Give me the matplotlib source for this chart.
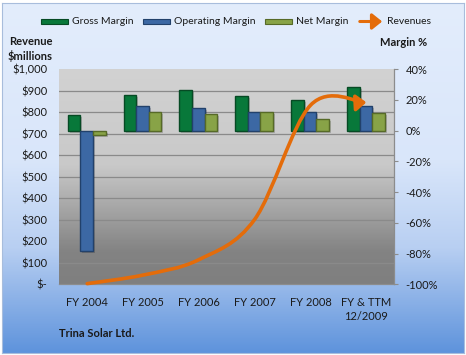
import numpy as np
import matplotlib.pyplot as plt
import matplotlib.transforms as mtransforms
from matplotlib.colors import LinearSegmentedColormap
from matplotlib.path import Path
from matplotlib.patches import FancyArrowPatch, Rectangle

plt.rcParams['font.family'] = ['Lato', 'DejaVu Sans']

# data
years = ['FY 2004', 'FY 2005', 'FY 2006', 'FY 2007', 'FY 2008', 'FY & TTM\n12/2009']
gross = [10.0, 23.0, 26.3, 22.2, 19.8, 28.3]
operating = [-78.5, 15.9, 14.4, 11.8, 11.8, 15.9]
net = [-2.6, 11.8, 10.7, 11.8, 7.4, 11.3]
revenue = [3.1, 42.9, 114.5, 301.8, 831.9, 845.1]

W, H = 466, 355
fig = plt.figure(figsize=(W / 100, H / 100), dpi=100, facecolor='white')


def fx(x):
    return x / W


def fy(y):
    return 1 - y / H


# blue gradient background of the whole chart
bg = fig.add_axes([fx(2.3), fy(352.7), fx(464 - 2.3), (352.7 - 2.7) / H], zorder=-5)
bg_cmap = LinearSegmentedColormap.from_list(
    'bg', [(0, '#e3edfc'), (0.45, '#d9e6fa'), (0.7, '#b8cff2'), (1, '#5e93dc')])
bg.imshow(np.linspace(0, 1, 256).reshape(-1, 1), cmap=bg_cmap, aspect='auto',
          extent=(0, 1, 0, 1), origin='upper')
bg.set_xticks([])
bg.set_yticks([])
for s in bg.spines.values():
    s.set_color('#a8bddc')
    s.set_linewidth(0.8)

# plot area
ax = fig.add_axes([fx(59.3), fy(284.3), fx(394.3 - 59.3), (284.3 - 69) / H])
ax2 = ax.twinx()

pa_cmap = LinearSegmentedColormap.from_list(
    'pa', [(0, '#d2d2d2'), (0.45, '#c9c9c9'), (0.85, '#838383'), (1, '#7f7f7f')])
ax.imshow(np.linspace(0, 1, 256).reshape(-1, 1), cmap=pa_cmap, aspect='auto',
          extent=(-0.5, 5.5, -100, 40), origin='upper', zorder=0)

x = np.arange(len(years))
bw = 0.225
shadow = ax.transData + mtransforms.ScaledTranslation(2 / 100, -2 / 100, fig.dpi_scale_trans)
series = [(gross, -0.235, '#08783a', '#064a24'),
          (operating, -0.01, '#3c68a4', '#22416b'),
          (net, 0.215, '#88a347', '#566a27')]
for vals, off, fc, ec in series:
    ax.bar(x + off, vals, bw, color='black', alpha=0.18, transform=shadow, zorder=2)
    ax.bar(x + off, vals, bw, color=fc, edgecolor=ec, linewidth=1.0, zorder=3)

# margin axis on the right
ax.set_xlim(-0.5, 5.5)
ax.set_ylim(-100, 40)
ax.set_xticks(x)
ax.set_xticklabels(years, fontsize=8, color='#1a1a1a', linespacing=1.3)
ax.tick_params(axis='x', length=0, pad=9)
ax.yaxis.tick_right()
ax.set_yticks(np.arange(-100, 41, 20))
ax.set_yticklabels([f'{v}%' for v in range(-100, 41, 20)], fontsize=8, color='#1a1a1a')
ax.tick_params(axis='y', which='major', length=3, pad=5, color='#8c8c8c')
ax.set_yticks(np.linspace(-100, 40, 11), minor=True)
ax.tick_params(axis='y', which='minor', length=0)
ax.grid(which='minor', axis='y', color='#8a8a8a', linewidth=0.9)
ax.set_axisbelow(True)
for side in ['left', 'top']:
    ax.spines[side].set_visible(False)
for side in ['right', 'bottom']:
    ax.spines[side].set_color('#8c8c8c')
    ax.spines[side].set_linewidth(0.9)

# revenue axis on the left
ax2.set_ylim(0, 1000)
ax2.yaxis.tick_left()
ticks = list(range(0, 1001, 100))
ax2.set_yticks(ticks)
ax2.set_yticklabels(['$-' if t == 0 else f'${t:,}' for t in ticks], fontsize=8, color='#1a1a1a')
ax2.tick_params(axis='y', length=0, pad=8.5)
for s in ax2.spines.values():
    s.set_visible(False)

# smoothed revenue line (bezier through the points) with arrow head
pts = np.column_stack([x, revenue]).astype(float)
ext = np.vstack([pts[0], pts, pts[-1]])
verts = [pts[0]]
codes = [Path.MOVETO]
for i in range(len(pts) - 1):
    p0, p1, p2, p3 = ext[i], ext[i + 1], ext[i + 2], ext[i + 3]
    verts += [p1 + (p2 - p0) / 6, p2 - (p3 - p1) / 6, p2]
    codes += [Path.CURVE4] * 3
arrow = FancyArrowPatch(path=Path(verts, codes), arrowstyle='-|>,head_length=0.5,head_width=0.4',
                        mutation_scale=12, color='#e46c0a', linewidth=2.6,
                        transform=ax2.transData, clip_on=False, zorder=5)
ax2.add_patch(arrow)

# axis titles and footer
fig.text(fx(30.5), fy(49), 'Revenue\n$millions', ha='center', va='center', fontsize=8,
         weight='bold', color='#1a1a1a', linespacing=1.35)
fig.text(fx(404), fy(42.7), 'Margin %', ha='center', va='center', fontsize=8,
         weight='bold', color='#1a1a1a')
fig.text(fx(59.3), fy(333.5), 'Trina Solar Ltd.', ha='left', va='center', fontsize=8,
         weight='bold', color='#1a1a1a')

# legend
leg = [(41, 'Gross Margin', '#08783a', '#064a24'),
       (143, 'Operating Margin', '#3c68a4', '#22416b'),
       (265, 'Net Margin', '#88a347', '#566a27')]
for x0, label, fc, ec in leg:
    fig.patches.append(Rectangle((fx(x0), fy(24)), fx(27), 5.3 / H, facecolor=fc,
                                 edgecolor=ec, linewidth=0.8, transform=fig.transFigure))
    fig.text(fx(x0 + 31), fy(21.5), label, ha='left', va='center', fontsize=7.5, color='#1a1a1a')
fig.patches.append(FancyArrowPatch((fx(357), fy(21.5)), (fx(385), fy(21.5)),
                                   arrowstyle='-|>,head_length=0.5,head_width=0.4',
                                   mutation_scale=12, color='#e46c0a', linewidth=2.2,
                                   transform=fig.transFigure))
fig.text(fx(387.5), fy(21.5), 'Revenues', ha='left', va='center', fontsize=7.5, color='#1a1a1a')

fig.savefig('out.png', dpi=100, facecolor='white')
